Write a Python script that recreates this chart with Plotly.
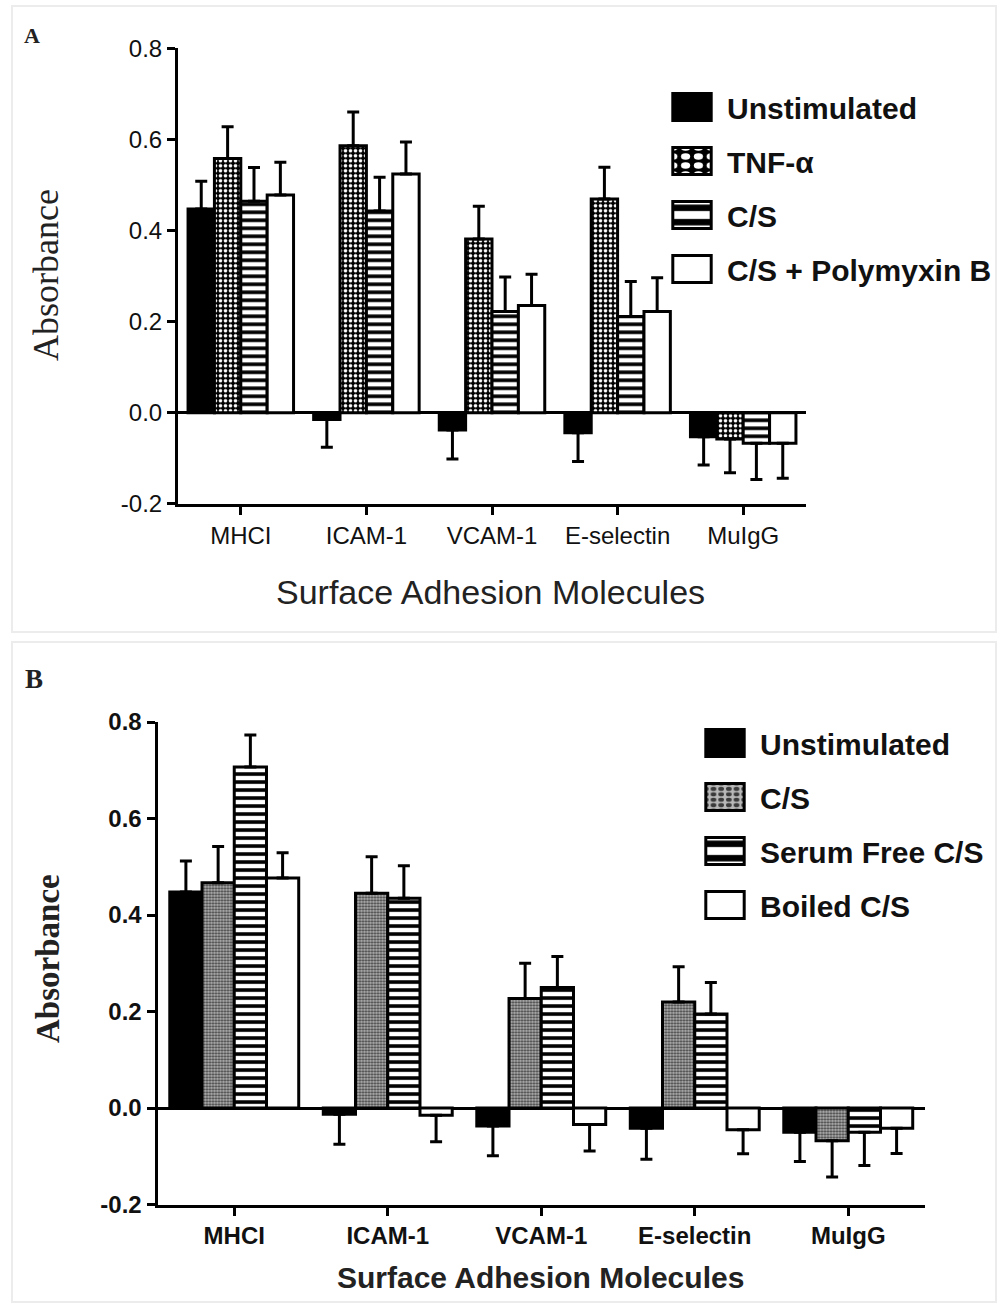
import plotly.graph_objects as go

# ---------------- data ----------------
categories = ["MHCI", "ICAM-1", "VCAM-1", "E-selectin", "MuIgG"]

# Panel A
a_names = ["Unstimulated", "TNF-\u03b1", "C/S", "C/S + Polymyxin B"]
a_unstim = [0.447, -0.015, -0.038, -0.044, -0.053]
a_unstim_err = [0.061, 0.061, 0.064, 0.063, 0.062]
a_tnf = [0.558, 0.586, 0.381, 0.469, -0.058]
a_tnf_err = [0.070, 0.074, 0.072, 0.070, 0.074]
a_cs = [0.464, 0.443, 0.222, 0.211, -0.067]
a_cs_err = [0.074, 0.074, 0.076, 0.077, 0.080]
a_pmb = [0.478, 0.524, 0.235, 0.222, -0.067]
a_pmb_err = [0.072, 0.070, 0.069, 0.074, 0.077]

# Panel B
b_names = ["Unstimulated", "C/S", "Serum Free C/S", "Boiled C/S"]
b_unstim = [0.448, -0.013, -0.037, -0.042, -0.050]
b_unstim_err = [0.064, 0.062, 0.062, 0.064, 0.061]
b_cs = [0.467, 0.445, 0.227, 0.220, -0.068]
b_cs_err = [0.075, 0.076, 0.073, 0.073, 0.075]
b_sf = [0.707, 0.435, 0.250, 0.195, -0.050]
b_sf_err = [0.066, 0.067, 0.064, 0.065, 0.069]
b_boiled = [0.477, -0.015, -0.034, -0.045, -0.042]
b_boiled_err = [0.052, 0.055, 0.055, 0.050, 0.052]

y_ticks = [-0.2, 0.0, 0.2, 0.4, 0.6, 0.8]
y_ticktext = ["-0.2", "0.0", "0.2", "0.4", "0.6", "0.8"]

# ---------------- styles ----------------
SANS = "Liberation Sans, Arial, sans-serif"
SERIF = "Liberation Serif, Times New Roman, serif"

solid_black = dict(color="black")
checker = dict(color="black", pattern=dict(shape=".", fgcolor="white", bgcolor="black",
                                           size=5, solidity=0.4, fillmode="replace"))
stripes = dict(color="white", pattern=dict(shape="-", fgcolor="black", bgcolor="white",
                                           size=8, solidity=0.45, fillmode="replace"))
stipple = dict(color="#888", pattern=dict(shape=".", fgcolor="#3a3a3a", bgcolor="#b8b8b8",
                                          size=3, solidity=0.45, fillmode="replace"))
plain_white = dict(color="white")


def err_dict(vals, errs):
    plus = [e if v >= 0 else 0 for v, e in zip(vals, errs)]
    minus = [e if v < 0 else 0 for v, e in zip(vals, errs)]
    return dict(type="data", symmetric=False, array=plus, arrayminus=minus,
                color="black", thickness=3, width=6)


fig = go.Figure()

a_series = [(a_unstim, a_unstim_err, solid_black), (a_tnf, a_tnf_err, checker),
            (a_cs, a_cs_err, stripes), (a_pmb, a_pmb_err, plain_white)]
for i, (name, (vals, errs, style)) in enumerate(zip(a_names, a_series)):
    m = dict(style)
    m["line"] = dict(color="black", width=3)
    fig.add_trace(go.Bar(x=categories, y=vals, name=name, marker=m,
                         error_y=err_dict(vals, errs), xaxis="x", yaxis="y",
                         legend="legend", legendgroup="a%d" % i))

b_series = [(b_unstim, b_unstim_err, solid_black), (b_cs, b_cs_err, stipple),
            (b_sf, b_sf_err, stripes), (b_boiled, b_boiled_err, plain_white)]
for i, (name, (vals, errs, style)) in enumerate(zip(b_names, b_series)):
    m = dict(style)
    m["line"] = dict(color="black", width=3)
    fig.add_trace(go.Bar(x=categories, y=vals, name=name, marker=m,
                         error_y=err_dict(vals, errs), xaxis="x2", yaxis="y2",
                         legend="legend2", legendgroup="b%d" % i))

axis_common = dict(showline=True, linecolor="black", linewidth=3, ticks="outside",
                   ticklen=8, tickwidth=3, tickcolor="black", showgrid=False,
                   mirror=False, automargin=False)

fig.update_layout(
    width=1000, height=1305,
    margin=dict(l=0, r=0, t=0, b=0, pad=0, autoexpand=False),
    paper_bgcolor="white", plot_bgcolor="white",
    barmode="group", bargap=0.16, bargroupgap=0,
    xaxis=dict(domain=[0.178, 0.806], anchor="y", range=[-0.5, 4.5],
               tickfont=dict(family=SANS, size=24, color="#111"), **axis_common),
    yaxis=dict(domain=[0.614, 0.963], anchor="x", range=[-0.2, 0.8],
               tickvals=y_ticks, ticktext=y_ticktext,
               tickfont=dict(family=SANS, size=24, color="#111"),
               zeroline=True, zerolinecolor="black", zerolinewidth=3, **axis_common),
    xaxis2=dict(domain=[0.1575, 0.925], anchor="y2", range=[-0.5, 4.5],
                tickfont=dict(family=SANS, size=24, color="#111", weight="bold"), **axis_common),
    yaxis2=dict(domain=[0.077, 0.4467], anchor="x2", range=[-0.2, 0.8],
                tickvals=y_ticks, ticktext=y_ticktext,
                tickfont=dict(family=SANS, size=24, color="#111", weight="bold"),
                zeroline=True, zerolinecolor="black", zerolinewidth=3, **axis_common),
    legend=dict(x=0.657, y=1 - 81 / 1305, xanchor="left", yanchor="top",
                font=dict(family=SANS, size=30, color="#111", weight="bold"),
                bgcolor="rgba(0,0,0,0)", itemwidth=60, tracegroupgap=12,
                traceorder="grouped"),
    legend2=dict(x=0.690, y=1 - 717 / 1305, xanchor="left", yanchor="top",
                 font=dict(family=SANS, size=30, color="#111", weight="bold"),
                 bgcolor="rgba(0,0,0,0)", itemwidth=60, tracegroupgap=12,
                 traceorder="grouped"),
    showlegend=True,
)

annotations = [
    dict(text="A", x=32 / 1000, y=1 - 35 / 1305, font=dict(family=SERIF, size=22, color="#222", weight="bold")),
    dict(text="B", x=34 / 1000, y=1 - 679 / 1305, font=dict(family=SERIF, size=27, color="#222", weight="bold")),
    dict(text="Absorbance", x=46 / 1000, y=1 - 275 / 1305, textangle=-90,
         font=dict(family=SERIF, size=36, color="#222")),
    dict(text="Absorbance", x=48 / 1000, y=1 - 959 / 1305, textangle=-90,
         font=dict(family=SERIF, size=33, color="#222", weight="bold")),
    dict(text="Surface Adhesion Molecules", x=490 / 1000, y=1 - 592 / 1305,
         font=dict(family=SANS, size=34, color="#222")),
    dict(text="Surface Adhesion Molecules", x=540 / 1000, y=1 - 1277 / 1305,
         font=dict(family=SANS, size=30, color="#222", weight="bold")),
]
for a in annotations:
    a.update(xref="paper", yref="paper", showarrow=False, xanchor="center", yanchor="middle")
fig.update_layout(annotations=annotations)

# faint panel frames
fig.add_shape(type="rect", xref="paper", yref="paper", x0=0.012, x1=0.996,
              y0=1 - 632 / 1305, y1=1 - 6 / 1305, line=dict(color="#ececec", width=2))
fig.add_shape(type="rect", xref="paper", yref="paper", x0=0.012, x1=0.996,
              y0=1 - 1302 / 1305, y1=1 - 642 / 1305, line=dict(color="#ececec", width=2))

post = """
var gd = document.getElementById('{plot_id}');
function bigSymbols(){
  gd.querySelectorAll('.legendpoints path').forEach(function(p){
    if (!p.hasAttribute('data-orig-tf')) {
      p.setAttribute('data-orig-tf', p.getAttribute('transform') || '');
    }
    var orig = p.getAttribute('data-orig-tf');
    p.setAttribute('transform', orig + ' scale(3.2,2.25)');
    p.style.vectorEffect = 'non-scaling-stroke';
    p.style.strokeWidth = '3px';
  });
  gd.querySelectorAll('.legend .bg, .legend .scrollbox').forEach(function(e){
    e.removeAttribute('clip-path');
  });
}
bigSymbols();
if (gd.on) { gd.on('plotly_afterplot', bigSymbols); }
setTimeout(bigSymbols, 200);
"""

fig.write_html("out.html", post_script=post)
